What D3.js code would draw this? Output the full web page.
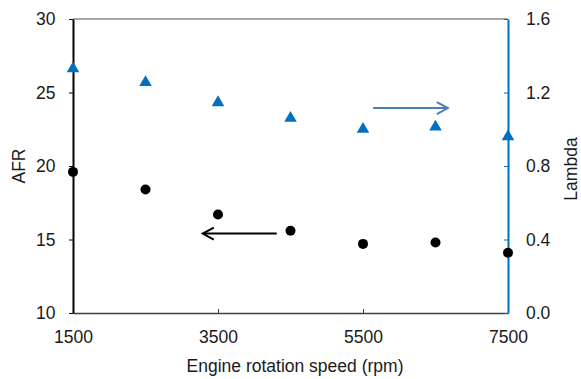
<!DOCTYPE html>
<html><head><meta charset="utf-8">
<script src="https://cdn.jsdelivr.net/npm/d3@7"></script>
<style>body{margin:0;background:#fff}text{font-family:"Liberation Sans",Arial,sans-serif}</style>
</head><body><svg id="c" width="581" height="379"></svg>
<script>
const rpm = [1500, 2500, 3500, 4500, 5500, 6500, 7500];
const afr = [19.6, 18.4, 16.7, 15.6, 14.7, 14.8, 14.1];
const lambda = [1.33, 1.255, 1.145, 1.06, 1.0, 1.013, 0.96];
const xTicks = [1500, 3500, 5500, 7500];
const afrTicks = [10, 15, 20, 25, 30];
const lambdaTicks = [0, 0.4, 0.8, 1.2, 1.6];
const afrArrow = {from: [4310, 15.4], to: [3290, 15.4]};
const lambdaArrow = {from: [5640, 1.115], to: [6670, 1.115]};

const svg = d3.select("#c");
const L = 73, R = 508, T = 19, B = 313;
const FS = 17.5;
const x = d3.scaleLinear().domain([1500, 7500]).range([L, R]);
const yL = d3.scaleLinear().domain([10, 30]).range([B, T]);
const yR = d3.scaleLinear().domain([0, 1.6]).range([B, T]);
const blue = "#0070C0";

// top border
svg.append("line").attr("x1", L).attr("x2", R).attr("y1", T).attr("y2", T).attr("stroke", "#505050").attr("stroke-width", 1);

// bottom axis
const gx = svg.append("g").attr("transform", `translate(0,${B})`)
  .call(d3.axisBottom(x).tickValues(xTicks).tickSizeInner(-4).tickSizeOuter(0).tickFormat(d3.format("d")));
gx.select(".domain").attr("stroke", "#404040").attr("stroke-width", 1.5);
gx.selectAll(".tick line").attr("stroke", "#404040");
gx.selectAll("text").attr("font-size", FS).attr("fill", "#1a1a1a").attr("y", 29.5).attr("dy", 0);

// left axis
const gl = svg.append("g").attr("transform", `translate(${L},0)`)
  .call(d3.axisLeft(yL).tickValues(afrTicks).tickSizeInner(4).tickSizeOuter(0));
gl.select(".domain").attr("stroke", "#000").attr("stroke-width", 2);
gl.selectAll("text").attr("font-size", FS).attr("fill", "#1a1a1a").attr("x", -17.5);

// right axis
const gr = svg.append("g").attr("transform", `translate(${R},0)`)
  .call(d3.axisRight(yR).tickValues(lambdaTicks).tickSizeInner(-4).tickSizeOuter(0).tickFormat(d3.format(".1f")));
gr.select(".domain").attr("stroke", blue).attr("stroke-width", 2);
gr.selectAll(".tick line").attr("stroke", blue);
gr.selectAll("text").attr("font-size", FS).attr("fill", "#1a1a1a").attr("x", 18);

// axis titles
svg.append("text").attr("x", 295).attr("y", 372).attr("text-anchor", "middle").attr("font-size", FS).attr("fill", "#1a1a1a").text("Engine rotation speed (rpm)");
svg.append("text").attr("transform", "translate(25,166) rotate(-90)").attr("text-anchor", "middle").attr("font-size", FS).attr("fill", "#1a1a1a").text("AFR");
svg.append("text").attr("transform", "translate(577,169) rotate(-90)").attr("text-anchor", "middle").attr("font-size", FS).attr("fill", "#1a1a1a").text("Lambda");

// arrows
function arrow(a, yS, color) {
  const x1 = x(a.from[0]), y1 = yS(a.from[1]), x2 = x(a.to[0]), y2 = yS(a.to[1]);
  const dir = Math.sign(x2 - x1);
  svg.append("line").attr("x1", x1).attr("y1", y1).attr("x2", x2).attr("y2", y2).attr("stroke", color).attr("stroke-width", 2);
  svg.append("path").attr("d", `M${x2 - dir * 11},${y2 - 6}L${x2},${y2}L${x2 - dir * 11},${y2 + 6}`)
    .attr("fill", "none").attr("stroke", color).attr("stroke-width", 2);
}
arrow(afrArrow, yL, "#000");
arrow(lambdaArrow, yR, "#4a7ebb");

// data
svg.selectAll("circle.afr").data(rpm).join("circle").attr("class", "afr")
  .attr("cx", (d) => x(d)).attr("cy", (d, i) => yL(afr[i])).attr("r", 5).attr("fill", "#000");
const tri = d3.symbol().type(d3.symbolTriangle).size(68);
svg.selectAll("path.lam").data(rpm).join("path").attr("class", "lam")
  .attr("d", tri).attr("transform", (d, i) => `translate(${x(d)},${yR(lambda[i])})`).attr("fill", blue);
</script></body></html>
